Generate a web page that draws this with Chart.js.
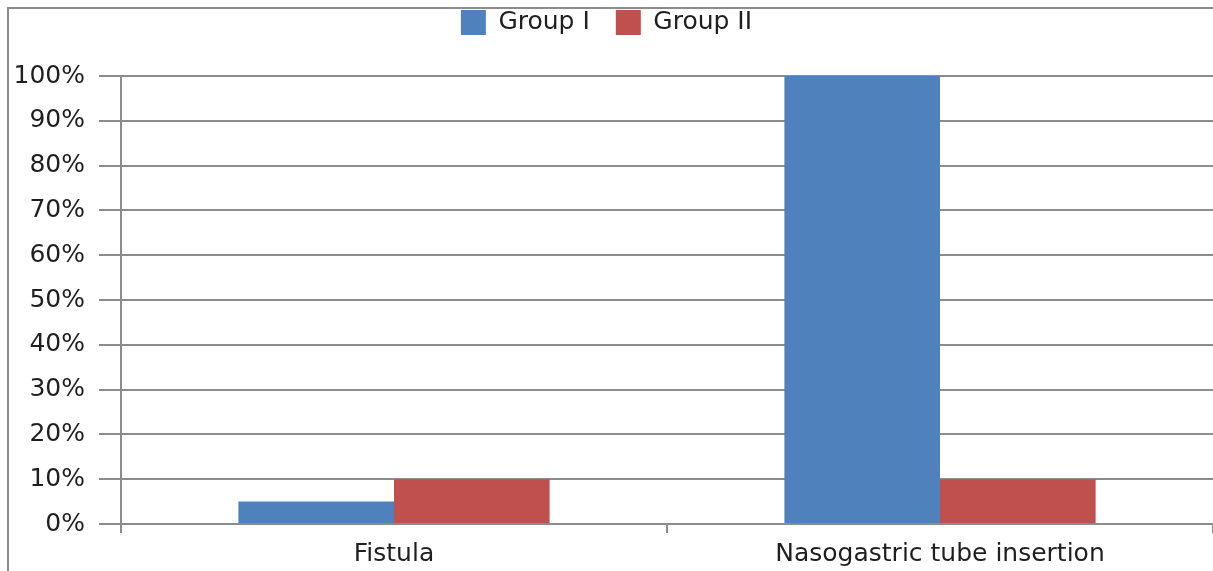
<!DOCTYPE html>
<html>
<head>
<meta charset="utf-8">
<script src="https://cdn.jsdelivr.net/npm/chart.js@4/dist/chart.umd.min.js"></script>
<style>
  html, body { margin: 0; padding: 0; background: #fff; }
  #wrap { position: relative; width: 1213px; height: 571px; }
</style>
</head>
<body>
<div id="wrap"><canvas id="chart" width="1213" height="571"></canvas></div>
<script>
// Complication rates by group
const categories = ['Fistula', 'Nasogastric tube insertion'];
const groupI = [5, 100];
const groupII = [10, 10];
const seriesNames = ['Group I', 'Group II'];
const yTicks = [0, 10, 20, 30, 40, 50, 60, 70, 80, 90, 100];

const gridColor = '#8c8c8c';
const textColor = '#1f1f1f';
const fontFamily = '"DejaVu Sans", Verdana, sans-serif';

// Outer frame line along the top and left edge
const framePlugin = {
  id: 'frame',
  afterDraw(chart) {
    const ctx = chart.ctx;
    ctx.save();
    ctx.strokeStyle = '#8c8c8c';
    ctx.lineWidth = 2;
    ctx.beginPath();
    ctx.moveTo(8, chart.height);
    ctx.lineTo(8, 8);
    ctx.lineTo(chart.width, 8);
    ctx.stroke();
    ctx.restore();
  }
};

// Keeps the plot area at a fixed distance below the legend
const legendGapPlugin = {
  id: 'legendGap',
  beforeInit(chart) {
    const fit = chart.legend.fit;
    chart.legend.fit = function () {
      fit.call(this);
      this.height += 31;
    };
  }
};

new Chart(document.getElementById('chart'), {
  type: 'bar',
  data: {
    labels: categories,
    datasets: [
      { label: seriesNames[0], data: groupI, backgroundColor: '#4f81bd' },
      { label: seriesNames[1], data: groupII, backgroundColor: '#c0504d' }
    ]
  },
  options: {
    responsive: false,
    animation: false,
    layout: { padding: { top: -16, left: 0, right: 0, bottom: 0 } },
    datasets: { bar: { barPercentage: 1, categoryPercentage: 0.57 } },
    plugins: {
      legend: {
        position: 'top',
        labels: {
          boxWidth: 25,
          boxHeight: 25,
          padding: 26,
          color: textColor,
          font: { family: fontFamily, size: 25 }
        }
      },
      tooltip: { enabled: false }
    },
    scales: {
      x: {
        grid: {
          drawOnChartArea: false,
          color: gridColor,
          lineWidth: 2,
          tickLength: 9,
          offset: true
        },
        border: { color: gridColor, width: 2 },
        ticks: {
          color: textColor,
          padding: 6,
          font: { family: fontFamily, size: 25 }
        },
        afterFit(scale) { scale.height = 47; }
      },
      y: {
        min: 0,
        max: 100,
        afterBuildTicks(scale) { scale.ticks = yTicks.map(v => ({ value: v })); },
        grid: { color: gridColor, lineWidth: 2, tickLength: 22 },
        border: { color: gridColor, width: 2 },
        ticks: {
          color: textColor,
          padding: 14,
          font: { family: fontFamily, size: 25 },
          callback: v => v + '%'
        },
        afterFit(scale) { scale.width = 121; }
      }
    }
  },
  plugins: [framePlugin, legendGapPlugin]
});
</script>
</body>
</html>
